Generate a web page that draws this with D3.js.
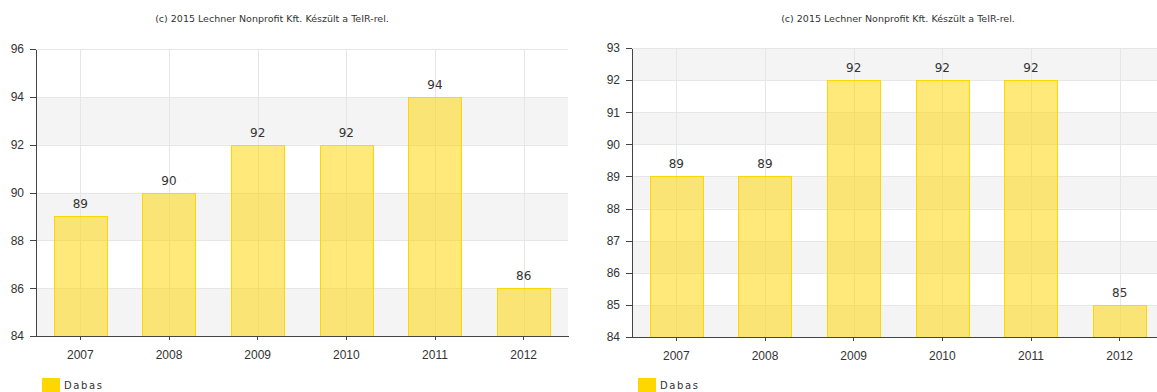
<!DOCTYPE html>
<meta charset="utf-8">
<style>
body { margin: 0; background: #fff; }
svg { display: block; font-family: "DejaVu Sans", Verdana, sans-serif; }
.axis path, .axis line { stroke: #444; shape-rendering: crispEdges; }
.axis text { fill: #333; font-size: 12px; }
.grid line { stroke: #e6e6e6; shape-rendering: crispEdges; }
</style>
<body>
<svg id="chart" width="1157" height="392"></svg>
<script src="https://cdn.jsdelivr.net/npm/d3@7"></script>
<script>

var years = ["2007", "2008", "2009", "2010", "2011", "2012"];
var leftValues = [89, 90, 92, 92, 94, 86];
var rightValues = [89, 89, 92, 92, 92, 85];
var leftTicks = [84, 86, 88, 90, 92, 94, 96];
var rightTicks = [84, 85, 86, 87, 88, 89, 90, 91, 92, 93];
var seriesName = "Dabas";
var credit = "(c) 2015 Lechner Nonprofit Kft. Készült a TeIR-rel.";

var svg = d3.select("#chart");

function drawChart(opts) {
  var g = svg.append("g");
  var ticks = opts.ticks;

  var x = d3.scaleBand().domain(years).range([opts.left, opts.right]).padding(0);
  var y = d3.scaleLinear()
      .domain([ticks[0], ticks[ticks.length - 1]])
      .range([opts.bottom, opts.top]);

  // alternating bands, starting gray at the bottom
  g.append("g").selectAll("rect")
      .data(ticks.slice(0, -1))
    .enter().append("rect")
      .attr("x", opts.left)
      .attr("width", opts.right - opts.left)
      .attr("y", (d, i) => y(ticks[i + 1]))
      .attr("height", (d, i) => y(d) - y(ticks[i + 1]))
      .attr("fill", (d, i) => i % 2 == 0 ? "#f4f4f4" : "#fff");

  var grid = g.append("g").attr("class", "grid");
  grid.selectAll(".h")
      .data(ticks)
    .enter().append("line")
      .attr("x1", opts.left).attr("x2", opts.right)
      .attr("y1", d => Math.round(y(d)) + 0.5).attr("y2", d => Math.round(y(d)) + 0.5);
  grid.selectAll(".v")
      .data(years)
    .enter().append("line")
      .attr("x1", d => Math.round(x(d) + x.bandwidth() / 2) + 0.5)
      .attr("x2", d => Math.round(x(d) + x.bandwidth() / 2) + 0.5)
      .attr("y1", opts.top).attr("y2", opts.bottom);

  var bw = x.bandwidth() * 0.6;
  g.append("g").selectAll("rect")
      .data(opts.values)
    .enter().append("rect")
      .attr("x", (d, i) => Math.round(x(years[i]) + (x.bandwidth() - bw) / 2) + 0.5)
      .attr("y", d => Math.round(y(d)) + 0.5)
      .attr("width", Math.round(bw))
      .attr("height", d => Math.round(y(ticks[0])) - Math.round(y(d)))
      .attr("fill", "#ffd400")
      .attr("fill-opacity", 0.52)
      .attr("stroke", "#ffd700");

  g.append("g").selectAll("text")
      .data(opts.values)
    .enter().append("text")
      .attr("x", (d, i) => x(years[i]) + x.bandwidth() / 2)
      .attr("y", d => y(d) - 8)
      .attr("text-anchor", "middle")
      .attr("font-size", 12)
      .attr("fill", "#333")
      .text(d => d);

  g.append("g")
      .attr("class", "axis")
      .attr("transform", "translate(" + opts.left + ",0)")
      .call(d3.axisLeft(y).tickValues(ticks).tickSize(6).tickSizeOuter(0).tickPadding(6));

  g.append("g")
      .attr("class", "axis")
      .attr("transform", "translate(0," + opts.bottom + ")")
      .call(d3.axisBottom(x).tickSize(4).tickSizeOuter(0).tickPadding(10));

  g.append("text")
      .attr("x", opts.titleX)
      .attr("y", 22)
      .attr("text-anchor", "middle")
      .attr("font-size", 9.5)
      .attr("fill", "#333")
      .text(credit);

  g.append("rect")
      .attr("x", opts.left + 6).attr("y", 378)
      .attr("width", 18).attr("height", 16)
      .attr("fill", "#ffd700");
  g.append("text")
      .attr("x", opts.left + 28).attr("y", 389)
      .attr("font-size", 10)
      .attr("letter-spacing", 1.6)
      .attr("fill", "#333")
      .text(seriesName);
}

drawChart({ values: leftValues, ticks: leftTicks, left: 36, right: 568, top: 49, bottom: 336, titleX: 272 });
drawChart({ values: rightValues, ticks: rightTicks, left: 632, right: 1164, top: 48, bottom: 337, titleX: 898 });

</script>
